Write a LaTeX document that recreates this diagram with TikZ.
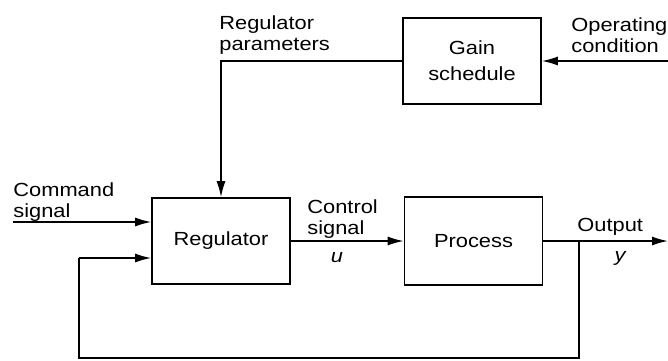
\documentclass[tikz,border=0pt]{standalone}
\usepackage{fontspec}
\setmainfont{Liberation Sans}[FakeStretch=1.15]
\usepackage{tikz}
\usetikzlibrary{arrows.meta,positioning}
\tikzset{
  blknode/.style={rectangle,draw=black,line width=0.8pt,inner sep=0pt,minimum width=69pt,font=\fontsize{9.5}{10.5}\selectfont,align=center},
  lblnode/.style={inner sep=0pt,font=\fontsize{9.5}{10.5}\selectfont,align=left},
  sigedge/.style={-{Latex[length=8pt,width=4.5pt]},line width=0.8pt,black},
  plainedge/.style={line width=0.8pt,black},
}

\begin{document}
\begin{tikzpicture}[x=0.5pt,y=-0.5pt]
  \useasboundingbox (0,0) rectangle (668,360);
  \node[blknode,minimum height=43pt] (nGain) at (472,61) {Gain\\[2.5pt]schedule};
  \node[blknode,minimum height=43pt] (nReg) at (221,241) {Regulator};
  \node[blknode,minimum height=44pt] (nProc) at (473.5,241) {Process};
  \coordinate (cOp) at (668,61);
  \coordinate (cCmd) at (13,222);
  \coordinate (cOut) at (668,241);
  \coordinate (cBr) at (579,241);
  \coordinate (cFbR) at (579,358);
  \coordinate (cFbL) at (79,358);
  \coordinate (cFbIn) at (79,258);
  \coordinate (cPar) at (nReg.north |- nGain.west);
  \draw[sigedge] (cOp) -- (nGain.east);
  \draw[sigedge] (nGain.west) -- (cPar) -- (nReg.north);
  \draw[sigedge] (cCmd) -- (nReg.west |- cCmd);
  \draw[sigedge] (nReg.east) -- (nProc.west);
  \draw[sigedge] (nProc.east) -- (cOut);
  \draw[plainedge] (cBr) -- (cFbR) -- (cFbL) -- (cFbIn);
  \draw[sigedge] (cFbIn) -- (nReg.west |- cFbIn);
  \node[lblnode,anchor=north west] (tPar) at (219,15) {Regulator\\parameters};
  \node[lblnode,anchor=north west] (tOp) at (571,17) {Operating\\condition};
  \node[lblnode,anchor=north west] (tCmd) at (13,182) {Command\\signal};
  \node[lblnode,anchor=north west] (tCtl) at (307,199) {Control\\signal};
  \node[lblnode,anchor=north west] (tOutp) at (577,218) {Output};
  \node[lblnode,font=\fontsize{9.5}{10.5}\selectfont\itshape] (tU) at (337,258) {u};
  \node[lblnode,font=\fontsize{9.5}{10.5}\selectfont\itshape] (tY) at (620,258) {y};
\end{tikzpicture}
\end{document}
